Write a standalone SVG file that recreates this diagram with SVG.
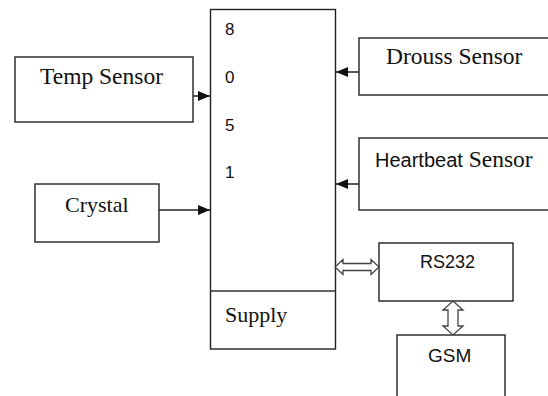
<svg xmlns="http://www.w3.org/2000/svg" width="548" height="396" viewBox="0 0 548 396">
<style>
.box{fill:#fff;stroke:#222;stroke-width:1.4}
.serif{font-family:"Liberation Serif","Times New Roman",serif;font-size:22px;fill:#111}
.big{font-size:23.5px}
.sans{font-family:"Liberation Sans",Arial,sans-serif;fill:#111}
.wire{stroke:#222;stroke-width:1.5;fill:none}
.hollow{fill:#fff;stroke:#444;stroke-width:1.3}
</style>
<defs>
<marker id="ah" markerUnits="userSpaceOnUse" viewBox="0 0 12 10" refX="12" refY="5" markerWidth="12" markerHeight="10" orient="auto">
<path d="M0,0 L12,5 L0,10 z" fill="#111"/>
</marker>
</defs>
<rect width="548" height="396" fill="#fff"/>
<g id="mcu">
<rect class="box" x="210.5" y="9.5" width="125" height="339.5"/>
<line x1="210.5" y1="291" x2="335.5" y2="291" stroke="#333" stroke-width="1.4"/>
<text class="sans" font-size="17" x="225" y="35">8</text>
<text class="sans" font-size="17" x="225" y="83">0</text>
<text class="sans" font-size="17" x="225" y="131">5</text>
<text class="sans" font-size="17" x="225" y="178">1</text>
<text class="serif" font-size="22.5" x="225" y="322">Supply</text>
</g>
<g id="temp">
<rect class="box" x="15" y="57" width="178" height="65"/>
<text class="serif big" x="40" y="84">Temp Sensor</text>
</g>
<g id="crystal">
<rect class="box" x="35" y="184" width="124" height="58"/>
<text class="serif" x="65" y="212">Crystal</text>
</g>
<g id="drouss">
<rect class="box" x="359" y="38" width="200" height="57"/>
<text class="serif big" x="386" y="64">Drouss Sensor</text>
</g>
<g id="heartbeat">
<rect class="box" x="359" y="138" width="200" height="72"/>
<text x="375" y="167"><tspan class="sans" font-size="20">Heartbeat</tspan><tspan class="serif big"> Sensor</tspan></text>
</g>
<g id="rs232">
<rect class="box" x="379" y="243" width="134" height="58"/>
<text class="sans" font-size="18" x="420" y="268">RS232</text>
</g>
<g id="gsm">
<rect class="box" x="397" y="335" width="108" height="80"/>
<text class="sans" font-size="19" x="428" y="362">GSM</text>
</g>
<g id="connectors">
<line class="wire" x1="193" y1="96" x2="210" y2="96" marker-end="url(#ah)"/>
<line class="wire" x1="159" y1="210" x2="210" y2="210" marker-end="url(#ah)"/>
<line class="wire" x1="359" y1="72" x2="336" y2="72" marker-end="url(#ah)"/>
<line class="wire" x1="359" y1="184" x2="336" y2="184" marker-end="url(#ah)"/>
<polygon class="hollow" points="335,267 343,259.5 343,263.5 371,263.5 371,259.5 379,267 371,274.5 371,270.5 343,270.5 343,274.5"/>
<polygon class="hollow" points="453,301 463,310 458,310 458,326 463,326 453,335 443,326 448,326 448,310 443,310"/>
</g>
</svg>
